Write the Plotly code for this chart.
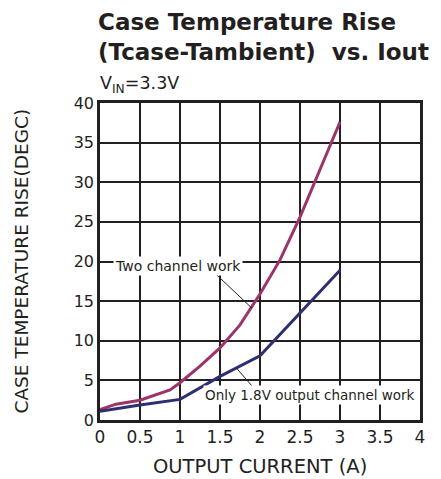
import plotly.graph_objects as go

two_x = [0, 0.2, 0.5, 0.875, 1.0, 1.25, 1.5, 1.75, 2.0, 2.25, 2.5, 2.75, 3.0]
two_y = [1.3, 2.0, 2.5, 3.8, 4.7, 6.8, 9.1, 12.0, 15.9, 20.2, 25.6, 31.5, 37.6]
one_x = [0, 0.5, 1.0, 1.5, 2.0, 2.5, 3.0]
one_y = [1.1, 1.9, 2.6, 5.5, 8.1, 13.5, 18.9]
x_ticks = [0, 0.5, 1, 1.5, 2, 2.5, 3, 3.5, 4]
x_tick_text = ["0", "0.5", "1", "1.5", "2", "2.5", "3", "3.5", "4"]
y_ticks = [0, 5, 10, 15, 20, 25, 30, 35, 40]

ink = "#231f20"
font = "DejaVu Sans, Liberation Sans, Arial, sans-serif"

fig = go.Figure()
fig.add_trace(go.Scatter(x=two_x, y=two_y, mode="lines",
                         line=dict(color="#9b3468", width=3), name="Two channel work"))
fig.add_trace(go.Scatter(x=one_x, y=one_y, mode="lines",
                         line=dict(color="#2d2f6e", width=3), name="Only 1.8V output channel work"))

fig.update_layout(
    width=433, height=471,
    margin=dict(l=92, r=21, t=95, b=59),
    paper_bgcolor="white", plot_bgcolor="white",
    showlegend=False,
    font=dict(family=font, color=ink, size=16),
    xaxis=dict(range=[0, 4], tickvals=x_ticks, ticktext=x_tick_text,
               showgrid=True, gridcolor=ink, gridwidth=1.5,
               showline=True, linecolor=ink, linewidth=2.5, mirror=True,
               zeroline=False, ticks="", tickfont=dict(size=17), automargin=False),
    yaxis=dict(range=[0, 40], tickvals=y_ticks,
               showgrid=True, gridcolor=ink, gridwidth=1.5,
               showline=True, linecolor=ink, linewidth=2.5, mirror=True,
               zeroline=False, ticks="", tickfont=dict(size=16), automargin=False),
)

# axis titles
fig.add_annotation(xref="paper", yref="paper", x=0.5, y=0, xanchor="center", yanchor="middle",
                   yshift=-46, text="OUTPUT CURRENT (A)", showarrow=False,
                   font=dict(size=19.5, color=ink))
fig.add_annotation(xref="paper", yref="paper", x=0, y=0.5, xanchor="center", yanchor="middle",
                   xshift=-79, textangle=-90, text="CASE TEMPERATURE RISE(DEGC)", showarrow=False,
                   font=dict(size=18.5, color=ink))

fig.add_annotation(xref="paper", yref="paper", x=-0.012, y=1.0, xanchor="left", yanchor="bottom",
                   yshift=36, text="<b>Case Temperature Rise<br>(Tcase-Tambient)  vs. Iout</b>",
                   showarrow=False, align="left", font=dict(size=23, color=ink))
fig.add_annotation(xref="paper", yref="paper", x=-0.005, y=1.0, xanchor="left", yanchor="bottom",
                   yshift=5, text="V<sub>IN</sub>=3.3V", showarrow=False,
                   font=dict(size=17.5, color=ink))

# leader lines
fig.add_shape(type="line", x0=1.46, y0=18.3, x1=1.90, y1=14.1, line=dict(color=ink, width=1))
fig.add_shape(type="line", x0=1.71, y0=6.5, x1=1.96, y1=3.6, line=dict(color=ink, width=1))

fig.add_annotation(x=0.98, y=19.4, text="Two channel work", showarrow=False,
                   bgcolor="white", font=dict(size=14, color=ink))
fig.add_annotation(x=2.62, y=3.15, text="Only 1.8V output channel work",
                   showarrow=False, bgcolor="white", font=dict(size=13.5, color=ink))

fig.write_html("out.html")
